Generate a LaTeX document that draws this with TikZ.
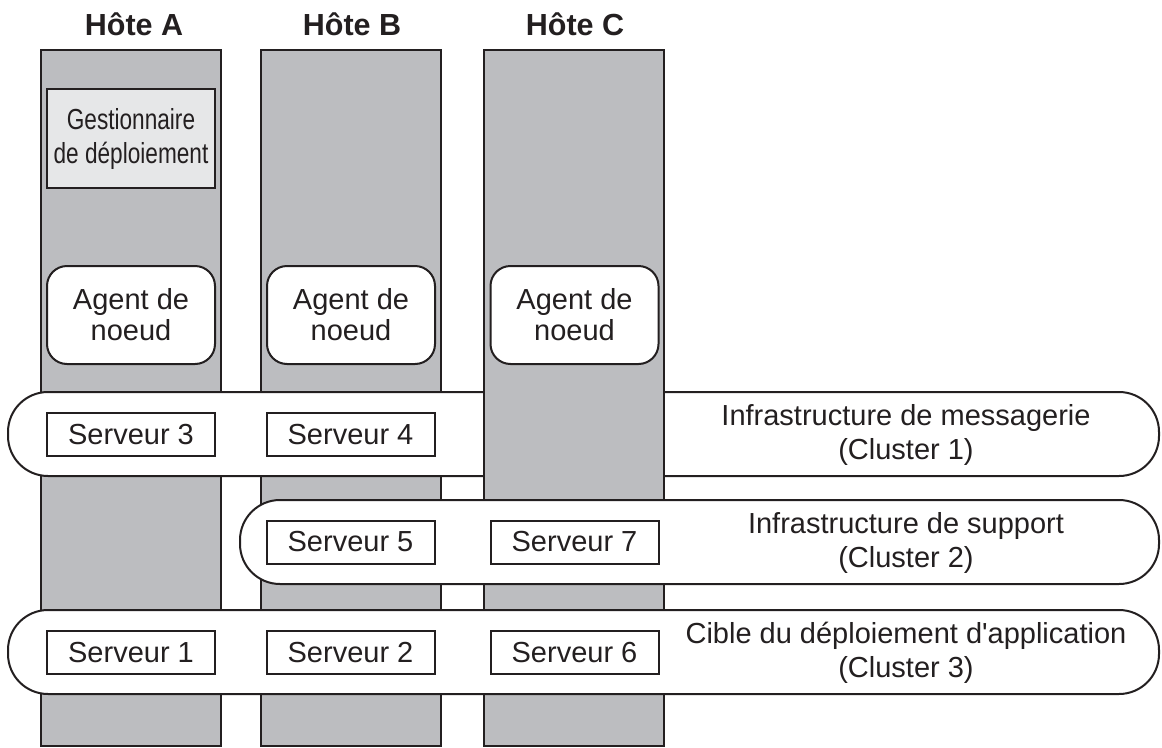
\documentclass[tikz,border=0pt]{standalone}
\usepackage{fontspec}
\setmainfont{Liberation Sans}
\newfontfamily\narrowfont[FakeStretch=0.78]{Liberation Sans}
\definecolor{hostGray}{HTML}{BCBDC0}
\definecolor{mgrGray}{HTML}{E6E7E8}
\definecolor{lineInk}{HTML}{231F20}
\usetikzlibrary{positioning}
\newcommand{\bodyfont}{\fontsize{29pt}{33pt}\selectfont}

\begin{document}
\begin{tikzpicture}[x=1pt, y=-1pt,
  hostcol/.style={draw=lineInk, line width=2pt, fill=hostGray,
    minimum width=180pt, minimum height=696pt, inner sep=0pt},
  hosttitle/.style={anchor=base, text=lineInk,
    font=\fontsize{30.5pt}{34pt}\selectfont\bfseries},
  mgrbox/.style={draw=lineInk, line width=2pt, fill=mgrGray, text=lineInk,
    minimum width=168pt, minimum height=99pt, inner sep=0pt, align=center,
    font=\narrowfont\fontsize{29pt}{34pt}\selectfont},
  agentbox/.style={draw=lineInk, line width=2pt, fill=white, text=lineInk,
    rounded corners=20pt, minimum width=168pt, minimum height=98pt,
    inner sep=0pt, align=center, font=\fontsize{29pt}{31pt}\selectfont},
  band/.style={draw=lineInk, line width=2pt, fill=white,
    rounded corners=40pt, minimum height=84pt, inner sep=0pt},
  srvbox/.style={draw=lineInk, line width=2pt, fill=white, text=lineInk,
    minimum width=168pt, minimum height=43pt, inner sep=0pt, font=\bodyfont},
  bandlabel/.style={text=lineInk, align=center,
    font=\fontsize{29pt}{34pt}\selectfont}
]
  \useasboundingbox (0,0) rectangle (1162,747);

  % host columns A and B, then cluster 1, then column C on top
  \node[hostcol] (colA) at (131,398) {};
  \node[hostcol] (colB) at (351,398) {};
  \node[band, minimum width=1151pt] (band1) at (583.5,434) {};
  \node[hostcol] (colC) at (574,398) {};

  \node[hosttitle] (titleA) at (134,35) {Hôte A};
  \node[hosttitle] (titleB) at (352,35) {Hôte B};
  \node[hosttitle] (titleC) at (575,35) {Hôte C};

  \node[mgrbox] (mgr) at (131,138.5) {Gestionnaire\\de déploiement};

  \node[agentbox] (agentA) at (131,315) {Agent de\\noeud};
  \node[agentbox] (agentB) at (351,315) {Agent de\\noeud};
  \node[agentbox] (agentC) at (574.5,315) {Agent de\\noeud};

  % clusters 2 and 3
  \node[band, minimum width=919pt] (band2) at (699.5,542) {};
  \node[band, minimum width=1151pt] (band3) at (583.5,652) {};

  \node[srvbox] (srv3) at (131,434.5) {Serveur 3};
  \node[srvbox] (srv4) at (350.5,434.5) {Serveur 4};
  \node[srvbox] (srv5) at (350.5,542) {Serveur 5};
  \node[srvbox] (srv7) at (574.5,542) {Serveur 7};
  \node[srvbox] (srv1) at (131,652.5) {Serveur 1};
  \node[srvbox] (srv2) at (350.5,652.5) {Serveur 2};
  \node[srvbox] (srv6) at (574.5,652.5) {Serveur 6};

  \node[bandlabel] (lbl1) at (906,435) {Infrastructure de messagerie\\(Cluster 1)};
  \node[bandlabel] (lbl2) at (906,543) {Infrastructure de support\\(Cluster 2)};
  \node[bandlabel] (lbl3) at (906,653) {Cible du déploiement d\textquotesingle application\\(Cluster 3)};
\end{tikzpicture}
\end{document}
